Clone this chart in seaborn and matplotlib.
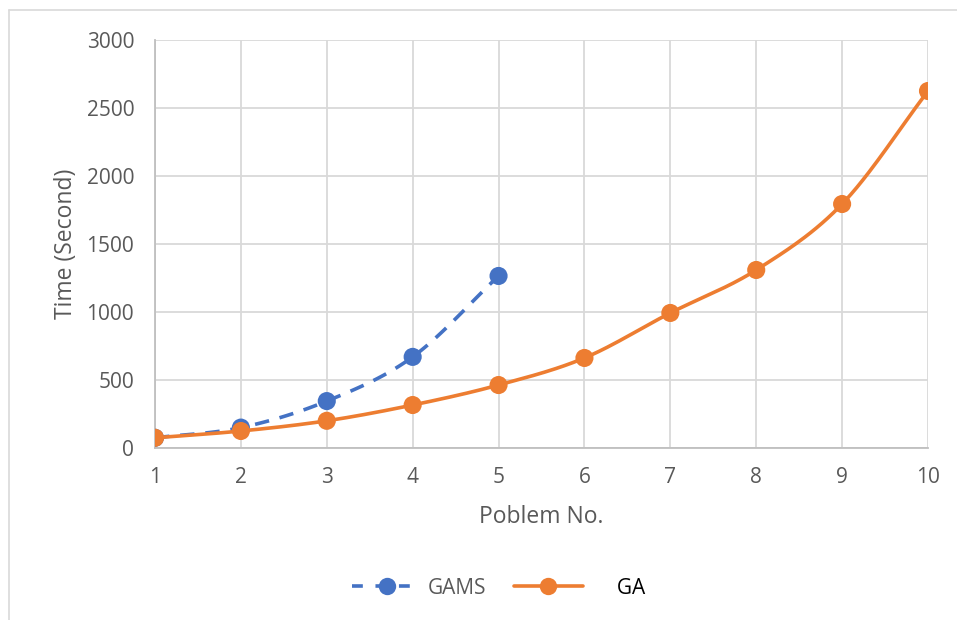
import numpy as np
import pandas as pd
import matplotlib
matplotlib.use("Agg")
import matplotlib.pyplot as plt
from matplotlib.lines import Line2D
import seaborn as sns

# ---- data ----
problems_gams = [1, 2, 3, 4, 5]
gams_time = [75, 150, 345, 670, 1265]
problems_ga = [1, 2, 3, 4, 5, 6, 7, 8, 9, 10]
ga_time = [75, 125, 200, 316, 463, 662, 993, 1309, 1794, 2625]
y_ticks = [0, 500, 1000, 1500, 2000, 2500, 3000]
x_ticks = [1, 2, 3, 4, 5, 6, 7, 8, 9, 10]

BLUE = "#4472C4"
ORANGE = "#ED7D31"
GRID = "#D9D9D9"
TXT = "#595959"

sns.set_theme(style="white")
plt.rcParams['font.family'] = ['Open Sans', 'DejaVu Sans']


def smooth(xs, ys, n=30):
    """Catmull-Rom rendering of a line through the given points (like Excel smoothed line)."""
    xs = np.asarray(xs, float)
    ys = np.asarray(ys, float)
    px = np.concatenate([[2 * xs[0] - xs[1]], xs, [2 * xs[-1] - xs[-2]]])
    py = np.concatenate([[2 * ys[0] - ys[1]], ys, [2 * ys[-1] - ys[-2]]])
    ox, oy = [], []
    for i in range(1, len(px) - 2):
        t = np.linspace(0, 1, n, endpoint=(i == len(px) - 3))
        for arr, out in ((px, ox), (py, oy)):
            p0, p1, p2, p3 = arr[i - 1], arr[i], arr[i + 1], arr[i + 2]
            out.extend(0.5 * ((2 * p1) + (-p0 + p2) * t
                              + (2 * p0 - 5 * p1 + 4 * p2 - p3) * t ** 2
                              + (-p0 + 3 * p1 - 3 * p2 + p3) * t ** 3))
    return np.array(ox), np.array(oy)


fig = plt.figure(figsize=(9.57, 6.2), dpi=100)
ax = fig.add_axes([155 / 957, 1 - 448 / 620, (928 - 155) / 957, (448 - 40) / 620])

# figure border (top and left visible)
fig.add_artist(Line2D([9 / 957, 1.0], [1 - 10 / 620, 1 - 10 / 620], color="#D9D9D9", lw=1.2,
                      transform=fig.transFigure))
fig.add_artist(Line2D([9 / 957, 9 / 957], [0, 1 - 10 / 620], color="#D9D9D9", lw=1.2,
                      transform=fig.transFigure))

gx, gy = smooth(problems_gams, gams_time)
ax.plot(gx, gy, color=BLUE, lw=2.6, dashes=(4, 3), zorder=3)
sns.scatterplot(x=problems_gams, y=gams_time, color=BLUE, s=170, edgecolor="none", ax=ax, zorder=4)

ox, oy = smooth(problems_ga, ga_time)
ax.plot(ox, oy, color=ORANGE, lw=2.6, zorder=5, solid_capstyle="round")
sns.scatterplot(x=problems_ga, y=ga_time, color=ORANGE, s=170, edgecolor="none", ax=ax, zorder=6)

ax.set_xlim(1, 10)
ax.set_ylim(0, 3000)
ax.set_xticks(x_ticks)
ax.set_yticks(y_ticks)
ax.set_xticklabels([str(v) for v in x_ticks])
ax.set_yticklabels([str(v) for v in y_ticks])
ax.grid(True, color=GRID, lw=1.3)
ax.set_axisbelow(True)
for s in ("top", "right"):
    ax.spines[s].set_visible(False)
for s in ("left", "bottom"):
    ax.spines[s].set_color("#BFBFBF")
    ax.spines[s].set_linewidth(1.3)
ax.tick_params(axis="both", length=0, labelsize=15, colors=TXT)
ax.tick_params(axis="x", pad=14)
ax.tick_params(axis="y", pad=15)
ax.set_xlabel("Poblem No.", fontsize=16.5, color=TXT, labelpad=12)
ax.set_ylabel("Time (Second)", fontsize=16.5, color=TXT, labelpad=6)

handles = [
    Line2D([0], [0], color=BLUE, lw=2.6, dashes=(3, 3.5), marker="o", markersize=12.5,
           markeredgecolor="none"),
    Line2D([0], [0], color=ORANGE, lw=2.6, marker="o", markersize=12.5, markeredgecolor="none"),
]
leg = fig.legend(handles, ["GAMS", "     GA"], loc="center", bbox_to_anchor=(0.521, 1 - 588 / 620),
                 ncol=2, frameon=False, fontsize=15, handlelength=3.3, columnspacing=1.3,
                 handletextpad=0.35)
txts = leg.get_texts()
txts[0].set_color(TXT)
txts[1].set_color("black")

fig.savefig("out.png", dpi=100)
